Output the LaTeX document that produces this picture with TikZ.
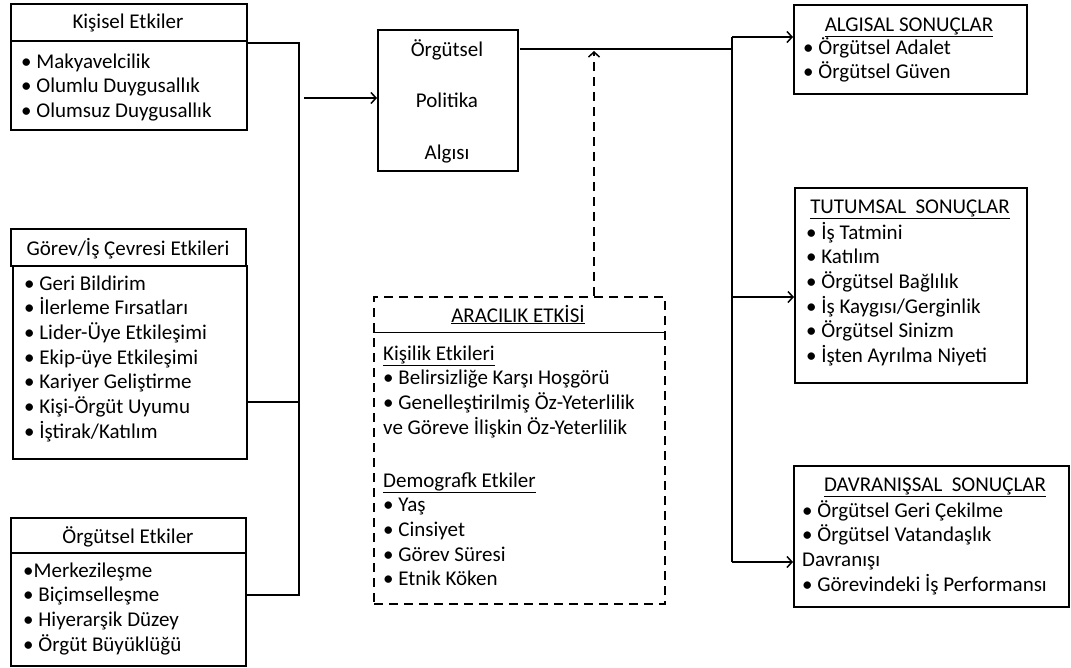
\documentclass[tikz,border=0pt]{standalone}
\usepackage{fontspec}
\setmainfont{Carlito}
\usetikzlibrary{arrows.meta,calc}
\tikzset{
  box/.style={draw, line width=2pt, anchor=north west, inner sep=0pt},
  dbox/.style={draw, line width=2pt, dash pattern=on 9pt off 6pt, anchor=north west, inner sep=0pt},
  conn/.style={line width=1.5pt},
  arr/.style={line width=1.5pt, -{Straight Barb[length=5pt,width=11pt,line width=1.5pt]}},
  darr/.style={line width=1.5pt, dash pattern=on 9pt off 6pt, -{Straight Barb[length=5pt,width=11pt,line width=1.5pt]}},
  txt/.style={anchor=base west, align=left, inner sep=0pt, font=\fontsize{21}{24.7}\selectfont},
  hdr/.style={anchor=base, inner sep=0pt, font=\fontsize{21}{24.7}\selectfont},
}
\begin{document}
\begin{tikzpicture}[x=1pt,y=-1pt]
\useasboundingbox (0,0) rectangle (1071,667);
% left boxes (text nodes are placed by the baseline of their last line)
\node[box, minimum width=236pt, minimum height=37pt] (h1) at (10,3) {};
\node[box, minimum width=236pt, minimum height=89pt] (b1) at (10,40) {};
\node[hdr] (th1) at (128,28) {Kişisel Etkiler};
\node[txt] (tb1) at (21,117.4) {• Makyavelcilik\\• Olumlu Duygusallık\\• Olumsuz Duygusallık};

\node[box, minimum width=235pt, minimum height=37pt] (h2) at (10,228) {};
\node[box, minimum width=234pt, minimum height=193pt] (b2) at (12,265) {};
\node[hdr] (th2) at (128,255) {Görev/İş Çevresi Etkileri};
\node[txt] (tb2) at (24,438.2) {• Geri Bildirim\\• İlerleme Fırsatları\\• Lider-Üye Etkileşimi\\• Ekip-üye Etkileşimi\\• Kariyer Geliştirme\\• Kişi-Örgüt Uyumu\\• İştirak/Katılım};

\node[box, minimum width=235pt, minimum height=35pt] (h3) at (10,517) {};
\node[box, minimum width=235pt, minimum height=113pt] (b3) at (10,552) {};
\node[hdr] (th3) at (128,543) {Örgütsel Etkiler};
\node[txt] (tb3) at (23,651.1) {•Merkezileşme\\• Biçimselleşme\\• Hiyerarşik Düzey\\• Örgüt Büyüklüğü};

% center box
\node[box, minimum width=140pt, minimum height=141pt] (pol) at (377,29) {};
\node[hdr] (p1) at (447,56) {Örgütsel};
\node[hdr] (p2) at (447,107) {Politika};
\node[hdr] (p3) at (447,159) {Algısı};

% dashed box
\node[dbox, minimum width=291pt, minimum height=307pt] (ara) at (373,296) {};
\draw[line width=1pt] (373,332) -- (664,332);
\node[hdr] (ta) at (518,322) {\underline{ARACILIK ETKİSİ}};
\node[txt] (tk) at (383,434.1) {\underline{Kişilik Etkileri}\\• Belirsizliğe Karşı Hoşgörü\\• Genelleştirilmiş Öz-Yeterlilik\\ve Göreve İlişkin Öz-Yeterlilik};
\node[txt] (td) at (383,585.8) {\underline{Demografk Etkiler}\\• Yaş\\• Cinsiyet\\• Görev Süresi\\• Etnik Köken};

% right boxes
\node[box, minimum width=233pt, minimum height=89pt] (alg) at (793,4) {};
\node[hdr] (talg) at (909,31) {\underline{ALGISAL SONUÇLAR}};
\node[txt] (ialg) at (803,78.7) {• Örgütsel Adalet\\• Örgütsel Güven};

\node[box, minimum width=232pt, minimum height=195pt] (tut) at (794,187) {};
\node[hdr] (ttut) at (910,213) {\underline{TUTUMSAL\ \ SONUÇLAR}};
\node[txt] (itut) at (806,362.5) {• İş Tatmini\\• Katılım\\• Örgütsel Bağlılık\\• İş Kaygısı/Gerginlik\\• Örgütsel Sinizm\\• İşten Ayrılma Niyeti};

\node[box, minimum width=275pt, minimum height=141pt] (dav) at (793,465) {};
\node[hdr] (tdav) at (935,491) {\underline{DAVRANIŞSAL\ \ SONUÇLAR}};
\node[txt] (idav) at (802,591.1) {• Örgütsel Geri Çekilme\\• Örgütsel Vatandaşlık\\Davranışı\\• Görevindeki İş Performansı};

% connectors left
\coordinate (jt) at (299,43);
\coordinate (j2) at (299,402);
\coordinate (jb) at (299,595);
\coordinate (ja) at (304,98);
\draw[conn] ([yshift=-3pt]b1.north east) -- (jt) -- (jb) -- (jb -| b3.east);
\draw[conn] (j2 -| b2.east) -- (j2);
\draw[arr] (ja) -- (ja -| pol.west);

% connectors right
\coordinate (po) at (520,49);
\coordinate (rt) at (732,37);
\coordinate (rm) at (732,297);
\coordinate (rb) at (732,562);
\draw[conn] (po) -- (po -| rt);
\draw[conn] (rt) -- (rb);
\draw[arr] (rt) -- (rt -| alg.west);
\draw[arr] (rm) -- (rm -| tut.west);
\draw[arr] (rb) -- (rb -| dav.west);

% dashed mediator arrow
\coordinate (dt) at (594,51);
\draw[darr] (dt |- ara.north) -- (dt);
\end{tikzpicture}
\end{document}
